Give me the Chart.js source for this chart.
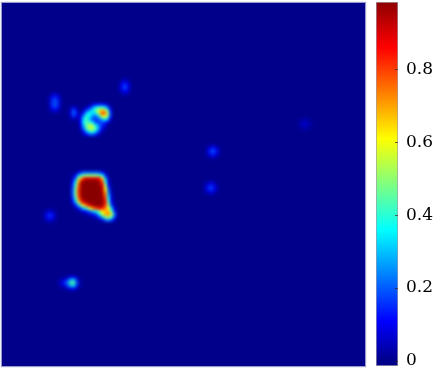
<!DOCTYPE html>
<html>
<head>
<meta charset="utf-8">
<script src="https://cdn.jsdelivr.net/npm/chart.js@4"></script>
<style>
html, body { margin: 0; padding: 0; background: #fff; width: 439px; height: 373px; overflow: hidden; }
#heatBox { position: absolute; left: 2px; top: 3px; width: 363px; height: 363px; overflow: hidden; background: #00008b; box-shadow: 0 0 1px 1px #9a9ad0; }
#heatBox canvas { filter: blur(1.6px); }
#barBox { position: absolute; left: 366px; top: 0; width: 73px; height: 373px; }
#barBox canvas { filter: blur(0.4px); }
</style>
</head>
<body>
<div id="heatBox"><canvas id="heatChart" width="363" height="363"></canvas></div>
<div id="barBox"><canvas id="barChart" width="73" height="373"></canvas></div>
<script>
// jet colour stops
var jetStops = [0, 0.11, 0.36, 0.61, 0.86, 1];
var jetColors = [[0, 0, 139], [0, 0, 255], [0, 255, 255], [255, 255, 0], [255, 0, 0], [128, 0, 0]];

// colourbar, its foot sits a little under the 0 label
var barRange = [-0.014, 0.985];
var barTicks = [0, 0.2, 0.4, 0.6, 0.8];

// each blob is a small grid of 3 unit cells
var mainBlobOrigin = [70.5, 169.5];
var mainBlob = [
    [0, .02, .08, .16, .2, .2, .2, .2, .2, .18, .12, .03, 0, 0, 0, 0],
    [.02, .1, .28, .42, .48, .5, .5, .5, .48, .45, .35, .14, .02, 0, 0, 0],
    [.06, .2, .5, .72, .85, .9, .9, .9, .88, .85, .65, .28, .05, 0, 0, 0],
    [.1, .32, .68, .92, .98, .99, .99, .99, .99, .95, .78, .38, .08, 0, 0, 0],
    [.14, .4, .75, .97, .99, .99, .99, .99, .99, .97, .85, .48, .12, .01, 0, 0],
    [.16, .45, .78, .97, .99, .99, .99, .99, .99, .99, .9, .57, .16, .02, 0, 0],
    [.18, .47, .8, .97, .99, .99, .99, .99, .99, .99, .93, .64, .22, .03, 0, 0],
    [.18, .47, .8, .97, .99, .99, .99, .99, .99, .99, .95, .72, .26, .05, 0, 0],
    [.16, .45, .78, .96, .99, .99, .99, .99, .99, .99, .96, .77, .32, .07, 0, 0],
    [.12, .37, .72, .92, .98, .99, .99, .99, .99, .99, .97, .82, .38, .09, .01, 0],
    [.07, .25, .52, .78, .9, .96, .98, .99, .99, .99, .97, .84, .44, .12, .02, 0],
    [.02, .12, .28, .5, .66, .8, .9, .96, .98, .98, .95, .8, .5, .18, .04, 0],
    [0, .03, .1, .22, .32, .44, .6, .75, .8, .85, .82, .74, .6, .32, .08, .01],
    [0, 0, .02, .06, .1, .15, .22, .32, .38, .5, .62, .68, .68, .45, .16, .02],
    [0, 0, 0, 0, .01, .04, .07, .1, .18, .34, .55, .68, .72, .56, .24, .04],
    [0, 0, 0, 0, 0, 0, .01, .03, .06, .15, .28, .45, .5, .4, .16, .02],
    [0, 0, 0, 0, 0, 0, 0, 0, 0, .03, .06, .18, .22, .16, .05, 0]
];

var ringBlobOrigin = [78.5, 101.5];
var ringBlob = [
    [0, 0, 0, .02, .06, .12, .14, .14, .12, .05, .01],
    [0, .01, .05, .12, .22, .33, .4, .42, .37, .22, .06],
    [.01, .06, .16, .26, .34, .44, .56, .68, .68, .44, .13],
    [.04, .14, .3, .37, .33, .33, .5, .75, .78, .55, .18],
    [.08, .25, .4, .34, .24, .2, .3, .52, .6, .47, .15],
    [.11, .33, .42, .3, .2, .16, .18, .26, .34, .28, .08],
    [.11, .34, .44, .42, .34, .2, .17, .18, .16, .09, .02],
    [.08, .28, .45, .54, .52, .37, .24, .16, .08, .02, 0],
    [.05, .22, .42, .54, .54, .44, .28, .13, .04, .01, 0],
    [.02, .12, .26, .38, .42, .33, .17, .06, .01, 0, 0],
    [0, .04, .11, .18, .2, .14, .06, .01, 0, 0, 0]
];

var leftSpotOrigin = [47, 91];
var leftSpot = [
    [0, .04, .06, .04, 0],
    [.02, .1, .14, .1, .02],
    [.03, .14, .2, .14, .03],
    [.03, .15, .2, .15, .03],
    [.03, .14, .2, .14, .03],
    [.02, .1, .13, .1, .02],
    [0, .03, .05, .03, 0]
];

var sideSpotOrigin = [68.5, 104];
var sideSpot = [
    [.02, .06, .03],
    [.06, .17, .1],
    [.08, .22, .14],
    [.06, .17, .1],
    [.02, .05, .03]
];

var topSpotOrigin = [117, 76.5];
var topSpot = [
    [0, .02, .04, .02, 0],
    [.01, .07, .1, .07, .01],
    [.02, .11, .18, .11, .02],
    [.02, .11, .18, .11, .02],
    [.01, .07, .1, .07, .01],
    [0, .02, .04, .02, 0]
];

var faintSpotOrigin = [297, 115];
var faintSpot = [
    [0, .01, .02, .01, 0],
    [.01, .03, .05, .03, .01],
    [.02, .05, .07, .05, .02],
    [.01, .03, .05, .03, .01],
    [0, .01, .02, .01, 0]
];

var midSpotOrigin = [205, 142.5];
var midSpot = [
    [.01, .03, .05, .03, .01],
    [.03, .09, .14, .09, .03],
    [.05, .14, .2, .14, .05],
    [.03, .09, .14, .09, .03],
    [.01, .03, .05, .03, .01]
];

var lowSpotOrigin = [203, 179];
var lowSpot = [
    [.01, .03, .05, .03, .01],
    [.03, .09, .13, .09, .03],
    [.05, .13, .19, .13, .05],
    [.03, .09, .13, .09, .03],
    [.01, .03, .05, .03, .01]
];

var edgeSpotOrigin = [42, 207];
var edgeSpot = [
    [.01, .02, .04, .02, .01],
    [.02, .08, .12, .08, .02],
    [.04, .12, .17, .12, .04],
    [.02, .08, .12, .08, .02],
    [.01, .02, .04, .02, .01]
];

var bottomSpotOrigin = [57, 274];
var bottomSpot = [
    [0, .01, .02, .05, .1, .1, .04, 0],
    [.02, .05, .1, .18, .3, .32, .14, .02],
    [.04, .09, .16, .27, .44, .44, .2, .04],
    [.02, .05, .1, .18, .3, .32, .14, .02],
    [0, .01, .02, .05, .1, .1, .04, 0]
];

function jet(v) {
    var i = 0;
    while (i < jetStops.length - 2 && v > jetStops[i + 1]) i++;
    var t = (v - jetStops[i]) / (jetStops[i + 1] - jetStops[i]);
    t = Math.max(0, Math.min(1, t));
    var a = jetColors[i], b = jetColors[i + 1];
    return 'rgb(' + Math.round(a[0] + (b[0] - a[0]) * t) + ',' + Math.round(a[1] + (b[1] - a[1]) * t) + ',' + Math.round(a[2] + (b[2] - a[2]) * t) + ')';
}

var cells = [];
function addBlob(origin, rows) {
    rows.forEach(function (row, r) {
        row.forEach(function (v, c) {
            if (v > 0) cells.push({ x: origin[0] + c * 3, y: origin[1] + r * 3, v: v });
        });
    });
}
addBlob(mainBlobOrigin, mainBlob);
addBlob(ringBlobOrigin, ringBlob);
addBlob(leftSpotOrigin, leftSpot);
addBlob(sideSpotOrigin, sideSpot);
addBlob(topSpotOrigin, topSpot);
addBlob(faintSpotOrigin, faintSpot);
addBlob(midSpotOrigin, midSpot);
addBlob(lowSpotOrigin, lowSpot);
addBlob(edgeSpotOrigin, edgeSpot);
addBlob(bottomSpotOrigin, bottomSpot);

var heatChart = new Chart(document.getElementById('heatChart').getContext('2d'), {
    type: 'scatter',
    data: {
        datasets: [{
            data: cells,
            pointStyle: 'rect',
            pointRadius: 2.2,
            pointBorderWidth: 0,
            pointBackgroundColor: cells.map(function (c) { return jet(c.v); })
        }]
    },
    options: {
        responsive: false,
        animation: false,
        layout: { padding: 0, autoPadding: false },
        plugins: { legend: { display: false }, tooltip: { enabled: false } },
        scales: {
            x: { display: false, min: 0, max: 363 },
            y: { display: false, min: 0, max: 363, reverse: true }
        }
    }
});

// small dark ticks on the right edge, inside the bar
var insideTicks = {
    id: 'insideTicks',
    afterDraw: function (chart) {
        var ctx = chart.ctx, area = chart.chartArea, scale = chart.scales.y;
        ctx.save();
        ctx.strokeStyle = 'rgba(60,40,30,0.7)';
        ctx.lineWidth = 1;
        barTicks.forEach(function (t) {
            var y = Math.round(scale.getPixelForValue(t)) + 0.5;
            ctx.beginPath();
            ctx.moveTo(area.right - 3, y);
            ctx.lineTo(area.right, y);
            ctx.stroke();
        });
        ctx.restore();
    }
};

var barChart = new Chart(document.getElementById('barChart').getContext('2d'), {
    type: 'bar',
    data: {
        labels: [''],
        datasets: [{
            data: [barRange],
            barPercentage: 1,
            categoryPercentage: 1,
            borderWidth: 1,
            borderSkipped: false,
            borderColor: 'rgba(120,110,130,0.7)',
            backgroundColor: function (c) {
                var area = c.chart.chartArea;
                if (!area) return jet(0);
                var span = barRange[1] - barRange[0];
                var g = c.chart.ctx.createLinearGradient(0, area.bottom, 0, area.top);
                g.addColorStop(0, jet(0));
                jetStops.forEach(function (s) {
                    if (s <= barRange[1]) g.addColorStop((s - barRange[0]) / span, jet(s));
                });
                g.addColorStop(1, jet(barRange[1]));
                return g;
            }
        }]
    },
    plugins: [insideTicks],
    options: {
        responsive: false,
        animation: false,
        layout: { padding: { left: 10, right: 0, top: 2, bottom: 7 }, autoPadding: false },
        plugins: { legend: { display: false }, tooltip: { enabled: false } },
        scales: {
            x: { display: false },
            y: {
                position: 'right',
                min: barRange[0],
                max: barRange[1],
                afterBuildTicks: function (s) { s.ticks = barTicks.map(function (v) { return { value: v }; }); },
                afterFit: function (s) { s.width = 41; },
                grid: { display: false },
                border: { display: false },
                ticks: {
                    padding: 0,
                    color: '#000',
                    // tiny line height stops the first label from shrinking the axis
                    font: { family: '"DejaVu Serif"', size: 17, lineHeight: 0.1 },
                    callback: function (v) { return String(v); }
                }
            }
        }
    }
});
</script>
</body>
</html>
